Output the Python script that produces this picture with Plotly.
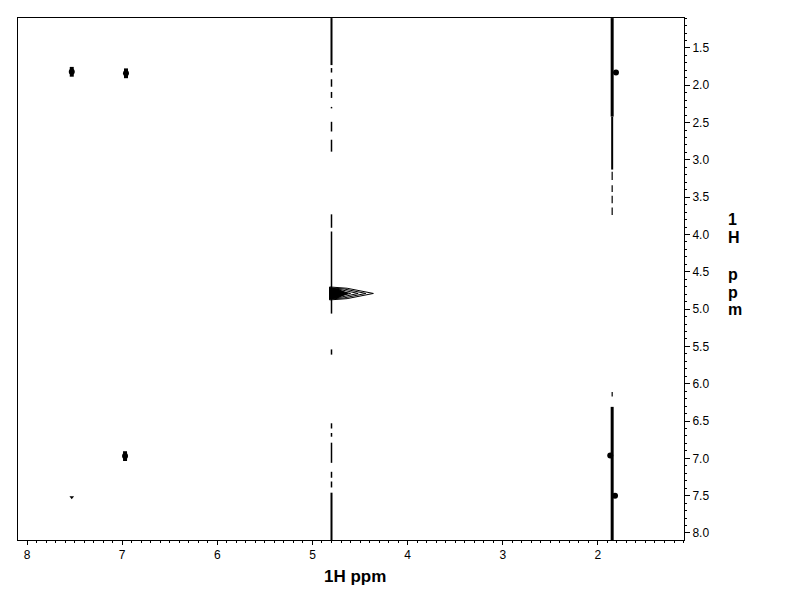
import plotly.graph_objects as go

# ---------------- data (ppm) ----------------
# isolated cross peaks (F2 = horizontal 1H, F1 = vertical 1H)
cross_f2 = [7.53, 6.96, 6.97]
cross_f1 = [1.82, 1.84, 6.97]
weak_f2 = [7.53]
weak_f1 = [7.52]
# shoulders sitting on the 1.85 ppm ridge
shoulder_f2 = [1.81, 1.87, 1.82]
shoulder_f1 = [1.83, 6.96, 7.50]

# t1 ridge at 4.80 ppm (segments: F1 start / end)
ridge_a_f2 = 4.80
ridge_a_heavy_start = [1.10, 7.46]
ridge_a_heavy_end = [1.73, 8.10]
ridge_a_light_start = [1.77, 1.92, 2.09, 2.29, 2.49, 2.73, 3.73, 3.96, 5.54, 6.53, 6.66, 6.79, 7.18, 7.31]
ridge_a_light_end = [1.83, 2.02, 2.17, 2.31, 2.62, 2.89, 3.91, 5.06, 5.61, 6.60, 6.71, 7.06, 7.26, 7.39]

# t1 ridge at 1.85 ppm
ridge_b_f2 = 1.85
ridge_b_heavy_start = [1.10, 6.31]
ridge_b_heavy_end = [2.42, 8.10]
ridge_b_mid_start = [2.42]
ridge_b_mid_end = [3.13]
ridge_b_light_start = [3.16, 3.34, 3.48, 3.64, 6.11]
ridge_b_light_end = [3.27, 3.43, 3.58, 3.74, 6.17]

# diagonal peak (water) at 4.80 ppm: contour tips along F2 and half widths along F1
diag_f2 = 4.82
diag_f1 = 4.79
diag_tip = [4.36, 4.44, 4.52, 4.60]
diag_half = [0.087, 0.075, 0.062, 0.050]
diag_core_tip = 4.63
diag_core_half = 0.075

x_ticks = [8, 7, 6, 5, 4, 3, 2]
y_ticks = [1.5, 2.0, 2.5, 3.0, 3.5, 4.0, 4.5, 5.0, 5.5, 6.0, 6.5, 7.0, 7.5, 8.0]
x_title = "1H ppm"
y_title_chars = ["1", "H", "p", "p", "m"]

# ---------------- figure ----------------
# the page body has an 8 px margin, so the figure is offset by 8 px
OFF = 8
W, H = 792 - OFF, 612 - OFF
L, R, T, B = 18 - OFF, 684 - OFF, 18 - OFF, 540 - OFF
FONT = "Liberation Sans, Arial, sans-serif"


def seg_xy(xpos, starts, ends):
    xs, ys = [], []
    for s, e in zip(starts, ends):
        xs += [xpos, xpos, None]
        ys += [s, e, None]
    return xs, ys


def outline(base, tip, center, half):
    sh = base - (base - tip) * 0.4
    xs = [base, sh, tip, sh, base, base]
    ys = [center - half, center - half * 0.8, center, center + half * 0.8, center + half, center - half]
    return xs, ys


fig = go.Figure()

for xpos, st, en, w in [
    (ridge_a_f2, ridge_a_heavy_start, ridge_a_heavy_end, 2),
    (ridge_a_f2, ridge_a_light_start, ridge_a_light_end, 1.5),
    (ridge_b_f2, ridge_b_heavy_start, ridge_b_heavy_end, 3),
    (ridge_b_f2, ridge_b_mid_start, ridge_b_mid_end, 2),
    (ridge_b_f2, ridge_b_light_start, ridge_b_light_end, 1.2),
]:
    xs, ys = seg_xy(xpos, st, en)
    fig.add_trace(go.Scatter(x=xs, y=ys, mode="lines",
                             line=dict(color="black", width=w),
                             hoverinfo="skip", showlegend=False))

# diagonal peak contours
cx, cy = outline(diag_f2, diag_core_tip, diag_f1, diag_core_half)
fig.add_trace(go.Scatter(x=cx, y=cy, mode="lines", fill="toself",
                         fillcolor="black", line=dict(color="black", width=1),
                         hoverinfo="skip", showlegend=False))
for tip, half in zip(diag_tip, diag_half):
    ox, oy = outline(diag_f2, tip, diag_f1, half)
    fig.add_trace(go.Scatter(x=ox, y=oy, mode="lines",
                             line=dict(color="black", width=1),
                             hoverinfo="skip", showlegend=False))

# cross peaks (slightly elongated along F1: round core + vertical bar)
fig.add_trace(go.Scatter(x=cross_f2, y=cross_f1, mode="markers",
                         marker=dict(symbol="circle", size=6, color="black"),
                         hoverinfo="skip", showlegend=False))
fig.add_trace(go.Scatter(x=cross_f2, y=cross_f1, mode="markers",
                         marker=dict(symbol="line-ns-open", size=7, color="black",
                                     line=dict(width=4, color="black")),
                         hoverinfo="skip", showlegend=False))
fig.add_trace(go.Scatter(x=weak_f2, y=weak_f1, mode="markers",
                         marker=dict(symbol="triangle-down", size=4, color="black"),
                         hoverinfo="skip", showlegend=False))
fig.add_trace(go.Scatter(x=shoulder_f2, y=shoulder_f1, mode="markers",
                         marker=dict(symbol="circle", size=6, color="black"),
                         hoverinfo="skip", showlegend=False))

fig.update_layout(
    width=W, height=H,
    margin=dict(l=L, r=W - R, t=T, b=H - B, pad=0),
    paper_bgcolor="white", plot_bgcolor="white",
    font=dict(family=FONT, color="black", size=12),
    showlegend=False,
    xaxis=dict(range=[8.095, 1.095], tickvals=x_ticks, ticktext=[str(v) for v in x_ticks],
               ticks="outside", ticklen=4, tickwidth=1, tickcolor="black",
               showline=True, linecolor="black", linewidth=1, mirror=True,
               showgrid=False, zeroline=False,
               minor=dict(dtick=0.1, tick0=0, ticks="outside", ticklen=2,
                          tickcolor="black", showgrid=False),
               tickfont=dict(family=FONT, size=12, color="black")),
    yaxis=dict(range=[8.094, 1.099], side="right", tickvals=y_ticks,
               ticktext=[f"{v:.1f}" for v in y_ticks],
               ticks="outside", ticklen=5, tickwidth=1, tickcolor="black",
               showline=True, linecolor="black", linewidth=1, mirror=True,
               showgrid=False, zeroline=False,
               minor=dict(dtick=0.1, tick0=0, ticks="outside", ticklen=2,
                          tickcolor="black", showgrid=False),
               tickfont=dict(family=FONT, size=12, color="black")),
)


def px(xp):
    return (xp - OFF - L) / (R - L)


def py(yp):
    return (B - (yp - OFF)) / (B - T)


fig.add_annotation(x=px(355), y=py(576), xref="paper", yref="paper",
                   text=f"<b>{x_title}</b>", showarrow=False,
                   xanchor="center", yanchor="middle",
                   font=dict(family=FONT, size=17, color="black"))

char_y = [219, 237, 274, 292, 309]
for ch, yy in zip(y_title_chars, char_y):
    fig.add_annotation(x=px(726), y=py(yy), xref="paper", yref="paper",
                       text=f"<b>{ch}</b>", showarrow=False,
                       xanchor="left", yanchor="middle",
                       font=dict(family=FONT, size=16, color="black"))

fig.write_html("out.html")
